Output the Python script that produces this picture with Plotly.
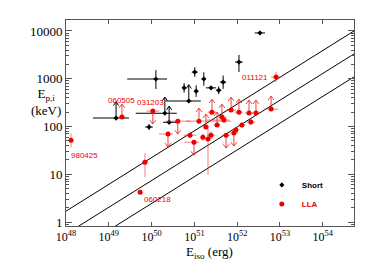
import numpy as np
import plotly.graph_objects as go

# ---------------- data ----------------
# Short GRBs (black)
short_E = [1.26e50, 3.4e52, 1.1e52, 1.02e51, 1.66e51, 2.45e51, 3.7e51, 4.7e51,
           5.75e50, 1.1e51, 7.4e50, 2.04e50, 2.57e50, 8.7e49, 1.48e49]
short_Ep = [990, 9100, 2240, 1380, 990, 646, 575, 850,
            646, 550, 343, 190, 123, 98, 151]
short_dx_lo = [0.67, 0.12, 0.09, 0.07, 0.05, 0.12, 0.06, 0.07, 0.04, 0.05, 0.54, 0.68, 0.14, 0.09, 0.54]
short_dx_hi = [0.26, 0.12, 0.09, 0.07, 0.05, 0.12, 0.06, 0.07, 0.04, 0.05, 0.28, 0.28, 0.23, 0.09, 0.30]
short_dy_lo = [0.21, 0.02, 0.21, 0.10, 0.14, 0.03, 0.08, 0.14, 0.10, 0.12, 0.0, 0.0, 0.0, 0.06, 0.0]
short_dy_hi = [0.185, 0.02, 0.15, 0.10, 0.14, 0.03, 0.08, 0.14, 0.10, 0.12, 0.0, 0.0, 0.0, 0.06, 0.0]
short_lim = [0, 0, 0, 0, 0, 0, 0, 0, 0, 0, 1, 1, 1, 0, 1]   # 1 = lower limit

# Low-luminosity / LLA GRBs (red)
lla_E = [1.31e48, 2.03e49, 1.07e50, 7.0e49, 5.4e49, 8.1e52, 2.42e50, 4.1e50,
         1.28e51, 7.9e50, 9.8e50, 2.08e51, 1.86e51, 2.45e51, 3.39e51, 1.58e51,
         5.5e51, 8.4e51, 1.29e52, 2.09e52, 7.2e51, 1.1e52, 1.89e52, 2.75e52,
         6.2e52, 4.9e51, 2.57e51, 4.4e51, 9.3e51]
lla_Ep = [52, 158, 211, 18, 4.25, 1090, 70, 130,
          130, 66, 47, 55, 98, 66, 108, 60,
          66, 73, 108, 124, 221, 200, 192, 192,
          232, 137, 200, 158, 85]
lla_dx_lo = [0.0, 0.08, 0.15, 0.07, 0.0, 0.12, 0.21, 0.28,
             0.30, 0.15, 0.23, 0.06, 0.08, 0.10, 0.08, 0.06,
             0.10, 0.10, 0.08, 0.10, 0.12, 0.10, 0.10, 0.10,
             0.17, 0.40, 0.10, 0.12, 0.08]
lla_dx_hi = [0.0, 0.08, 0.15, 0.07, 0.0, 0.12, 0.12, 0.30,
             0.75, 0.15, 0.12, 0.06, 0.08, 0.10, 0.08, 0.06,
             0.10, 0.10, 0.08, 0.10, 0.12, 0.10, 0.10, 0.10,
             0.17, 0.12, 0.10, 0.12, 0.08]
lla_dy_lo = [0.15, 0.0, 0.0, 0.31, 0.0, 0.11, 0.0, 0.0,
             0.0, 0.06, 0.0, 0.75, 0.0, 0.08, 0.0, 0.08,
             0.0, 0.0, 0.06, 0.06, 0.0, 0.0, 0.0, 0.0,
             0.0, 0.06, 0.0, 0.0, 0.06]
lla_dy_hi = [0.14, 0.0, 0.0, 0.19, 0.0, 0.11, 0.0, 0.0,
             0.0, 0.06, 0.0, 0.23, 0.0, 0.08, 0.0, 0.08,
             0.0, 0.0, 0.06, 0.06, 0.0, 0.0, 0.0, 0.0,
             0.0, 0.06, 0.0, 0.0, 0.06]
lla_lim = [0, 1, -1, 0, 0, 0, -1, -1,
           1, 0, -1, 0, 1, 0, 1, 0,
           -1, -1, 0, 0, 1, 1, 1, 1,
           1, 0, 1, 1, 0]          # 1 = lower limit, -1 = upper limit

# labelled events
label_names = ["060505", "031203", "011121", "980425", "060218"]
label_E = [2.03e49, 1.07e50, 8.1e52, 1.31e48, 5.4e49]
label_Ep = [158, 211, 1090, 52, 4.25]

# Amati relation and its 2-sigma band
amati_K = 98.0       # keV at Eiso = 1e52 erg
amati_m = 0.56
amati_spread = 0.48  # dex
line_E = [1e47, 1e56]

x_tickvals = [1e48, 1e49, 1e50, 1e51, 1e52, 1e53, 1e54]
x_ticktext = ["10<sup>%d</sup>" % p for p in range(48, 55)]
y_tickvals = [1, 10, 100, 1000, 10000]
y_ticktext = ["1", "10", "100", "1000", "10000"]

# ---------------- helpers ----------------
def errs(v, lo, hi):
    v = np.array(v, float)
    return v * (10 ** np.array(hi) - 1), v * (1 - 10 ** (-np.array(lo)))

def arrows(E, Ep, lim, L, hw, hh):
    xs, ys = [], []
    for e, p, l in zip(E, Ep, lim):
        if l == 0:
            continue
        tip = p * 10 ** (l * L)
        base = tip * 10 ** (-l * hh)
        xs += [e, e, None, e * 10 ** (-hw), e, e * 10 ** hw, None]
        ys += [p, tip, None, base, tip, base, None]
    return xs, ys

serif = "Liberation Serif"
fig = go.Figure()

# Amati lines
le = np.array(line_E)
for off in (amati_spread, 0.0, -amati_spread):
    fig.add_trace(go.Scatter(x=le, y=amati_K * (le / 1e52) ** amati_m * 10 ** off,
                             mode="lines", line=dict(color="black", width=1),
                             showlegend=False, hoverinfo="skip"))

# Short
sxp, sxm = errs(short_E, short_dx_lo, short_dx_hi)
syp, sym = errs(short_Ep, short_dy_lo, short_dy_hi)
ax_, ay_ = arrows(short_E, short_Ep, short_lim, 0.34, 0.06, 0.08)
fig.add_trace(go.Scatter(x=ax_, y=ay_, mode="lines", line=dict(color="black", width=1),
                         showlegend=False, hoverinfo="skip"))
fig.add_trace(go.Scatter(
    x=short_E, y=short_Ep, mode="markers", name="<b>Short</b>",
    marker=dict(symbol="diamond", size=4, color="black"),
    error_x=dict(type="data", symmetric=False, array=sxp, arrayminus=sxm,
                 color="black", thickness=1, width=0),
    error_y=dict(type="data", symmetric=False, array=syp, arrayminus=sym,
                 color="black", thickness=1, width=0)))

# LLA
rxp, rxm = errs(lla_E, lla_dx_lo, lla_dx_hi)
ryp, rym = errs(lla_Ep, lla_dy_lo, lla_dy_hi)
bx_, by_ = arrows(lla_E, lla_Ep, lla_lim, 0.27, 0.07, 0.08)
fig.add_trace(go.Scatter(x=bx_, y=by_, mode="lines",
                         line=dict(color="rgba(235,30,30,0.85)", width=1),
                         showlegend=False, hoverinfo="skip"))
fig.add_trace(go.Scatter(
    x=lla_E, y=lla_Ep, mode="markers", name="<span style='color:#ee0000'><b>LLA</b></span>",
    marker=dict(symbol="circle", size=5, color="#ee0000"),
    error_x=dict(type="data", symmetric=False, array=rxp, arrayminus=rxm,
                 color="rgba(235,60,60,0.65)", thickness=1, width=0),
    error_y=dict(type="data", symmetric=False, array=ryp, arrayminus=rym,
                 color="rgba(235,60,60,0.65)", thickness=1, width=0)))

# labels
offs = {"060505": (0, 17, "center"), "031203": (-2, 9, "center"),
        "011121": (-6, 0, "right"), "980425": (-2, -15, "left"),
        "060218": (2, -7, "left")}
for n, e, p in zip(label_names, label_E, label_Ep):
    dx, dy, al = offs[n]
    fig.add_annotation(x=np.log10(e), y=np.log10(p), text=n, showarrow=False,
                       xshift=dx, yshift=dy, xanchor=al,
                       font=dict(family="Liberation Sans", size=8, color="#ee0000"))

# axis titles
fig.add_annotation(xref="paper", yref="paper", x=-0.012, y=0.6, xanchor="right",
                   yanchor="middle", showarrow=False, align="center",
                   text="E<sub>p,i</sub><br>(keV)",
                   font=dict(family=serif, size=13, color="black"))
fig.add_annotation(xref="paper", yref="paper", x=0.497, y=-0.13, xanchor="center",
                   yanchor="middle", showarrow=False,
                   text="E<sub>iso</sub> (erg)",
                   font=dict(family=serif, size=13, color="black"))

minor_y = [m * 10 ** d for d in range(-1, 5) for m in range(2, 10)]
fig.update_layout(
    width=366, height=259, margin=dict(l=58, r=20, t=12, b=41),
    paper_bgcolor="white", plot_bgcolor="white",
    legend=dict(x=0.68, y=0.27, xanchor="left", yanchor="top",
                bgcolor="rgba(0,0,0,0)", font=dict(family="Liberation Sans", size=8, color="black"),
                itemsizing="trace", itemwidth=30),
    xaxis=dict(type="log", range=[48, 54.73], tickmode="array", tickvals=x_tickvals,
               ticktext=x_ticktext, ticks="inside", ticklen=4, tickcolor="#555",
               mirror="ticks", showline=True, linecolor="#555", linewidth=1,
               showgrid=False, zeroline=False, automargin=False,
               tickfont=dict(family=serif, size=12, color="black")),
    yaxis=dict(type="log", range=[-0.08, 4.23], tickmode="array", tickvals=y_tickvals,
               ticktext=y_ticktext, ticks="inside", ticklen=6, tickcolor="#555",
               mirror="ticks", showline=True, linecolor="#555", linewidth=1,
               showgrid=False, zeroline=False, automargin=False,
               minor=dict(tickmode="array", tickvals=minor_y, ticks="inside",
                          ticklen=3, tickcolor="#555", showgrid=False),
               tickfont=dict(family=serif, size=13, color="black")),
)
fig.write_html("out.html")
